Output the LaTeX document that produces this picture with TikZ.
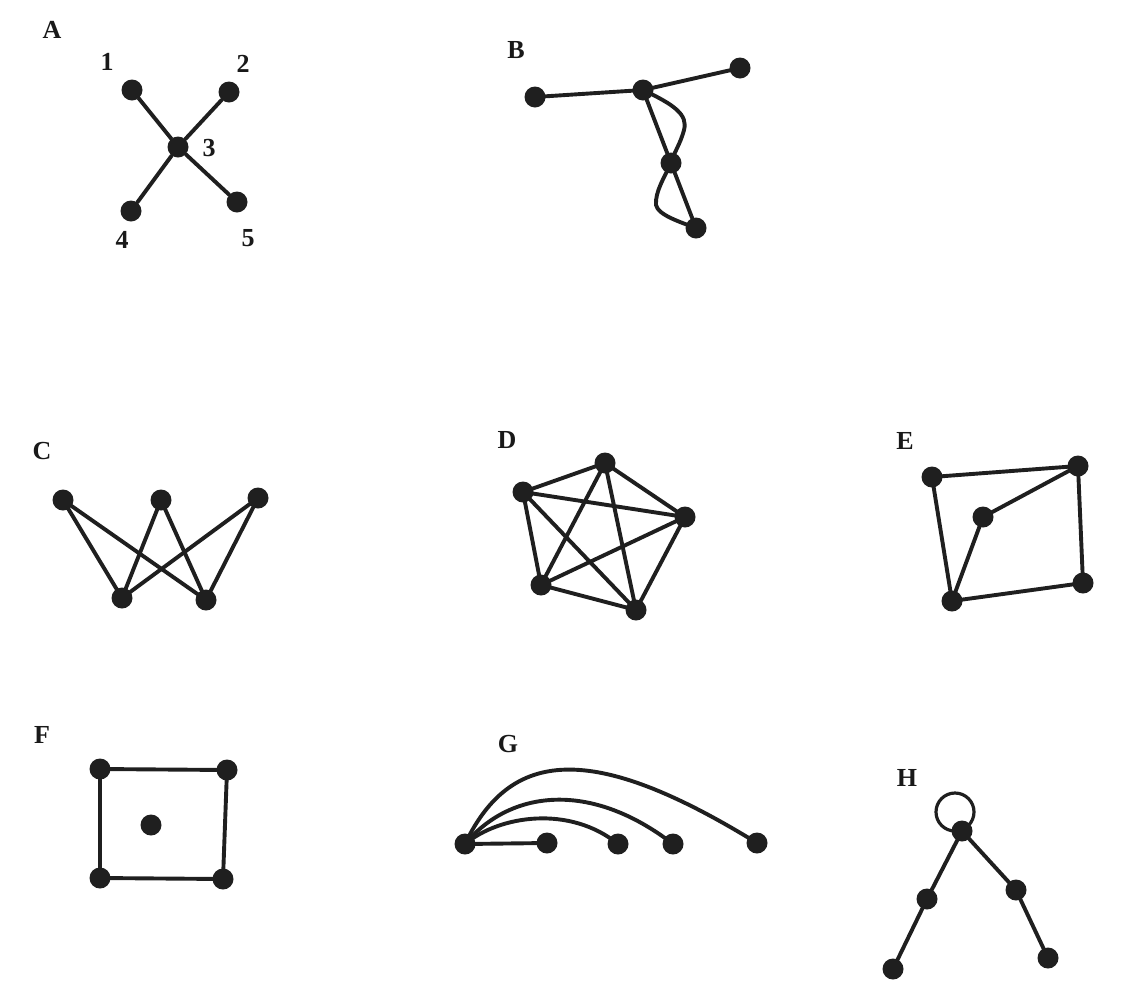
\documentclass[tikz,border=0pt]{standalone}
\usepackage{fontspec}
\setmainfont{Liberation Serif}
\begin{document}
\begin{tikzpicture}[x=1pt,y=-1pt,
  vtx/.style={circle,fill=black!88,inner sep=0pt,minimum size=21pt},
  edge/.style={line width=3.9pt,black!88,line cap=round,line join=round},
  lbl/.style={font=\fontsize{26}{29}\selectfont\bfseries,inner sep=0pt,black!90}]
\useasboundingbox (0,0) rectangle (1122,994);
% ---------- A
\node[lbl] (lA) at (52,30) {A};
\node[vtx] (a1) at (132,90) {};
\node[vtx] (a2) at (229,92) {};
\node[vtx] (a3) at (178,147) {};
\node[vtx] (a4) at (131,211) {};
\node[vtx] (a5) at (237,202) {};
\node[lbl] (n1) at (107,62) {1};
\node[lbl] (n2) at (243,64) {2};
\node[lbl] (n3) at (209,148) {3};
\node[lbl] (n4) at (122,240) {4};
\node[lbl] (n5) at (248,238) {5};
\draw[edge] (a1)--(a3) (a2)--(a3) (a4)--(a3) (a5)--(a3);
% ---------- B
\node[lbl] (lB) at (516,50) {B};
\node[vtx] (b1) at (535,97) {};
\node[vtx] (b2) at (643,90) {};
\node[vtx] (b3) at (740,68) {};
\node[vtx] (b4) at (671,163) {};
\node[vtx] (b5) at (696,228) {};
\draw[edge] (b1.center)--(b2.center)--(b3.center);
\draw[edge] (b2.center)--(b4.center)--(b5.center);
\draw[edge] (b2.center) .. controls (675,105) and (688,115) .. (684,130) .. controls (680,145) and (674,152) .. (b4.center);
\draw[edge] (b4.center) .. controls (664,178) and (655,192) .. (656,205) .. controls (658,215) and (680,222) .. (b5.center);
% ---------- C
\node[lbl] (lC) at (42,451) {C};
\node[vtx] (c1) at (63,500) {};
\node[vtx] (c2) at (161,500) {};
\node[vtx] (c3) at (258,498) {};
\node[vtx] (c4) at (122,598) {};
\node[vtx] (c5) at (206,600) {};
\foreach \t in {c1,c2,c3}{\foreach \b in {c4,c5}{\draw[edge] (\t.center)--(\b.center);}}
% ---------- D
\node[lbl] (lD) at (507,440) {D};
\node[vtx] (d1) at (605,463) {};
\node[vtx] (d2) at (523,492) {};
\node[vtx] (d3) at (685,517) {};
\node[vtx] (d4) at (541,585) {};
\node[vtx] (d5) at (636,610) {};
\draw[edge] (d1.center)--(d2.center) (d1.center)--(d3.center) (d1.center)--(d4.center) (d1.center)--(d5.center)
  (d2.center)--(d3.center) (d2.center)--(d4.center) (d2.center)--(d5.center)
  (d3.center)--(d4.center) (d3.center)--(d5.center) (d4.center)--(d5.center);
% ---------- E
\node[lbl] (lE) at (905,441) {E};
\node[vtx] (e1) at (932,477) {};
\node[vtx] (e2) at (1078,466) {};
\node[vtx] (e3) at (983,517) {};
\node[vtx] (e4) at (1083,583) {};
\node[vtx] (e5) at (952,601) {};
\draw[edge] (e1.center)--(e2.center)--(e4.center)--(e5.center)--(e1.center);
\draw[edge] (e2.center)--(e3.center)--(e5.center);
% ---------- F
\node[lbl] (lF) at (42,735) {F};
\node[vtx] (f1) at (100,769) {};
\node[vtx] (f2) at (227,770) {};
\node[vtx] (f3) at (151,825) {};
\node[vtx] (f4) at (100,878) {};
\node[vtx] (f5) at (223,879) {};
\draw[edge] (f1.center)--(f2.center)--(f5.center)--(f4.center)--(f1.center);
% ---------- G
\node[lbl] (lG) at (508,744) {G};
\node[vtx] (g1) at (465,844) {};
\node[vtx] (g2) at (547,843) {};
\node[vtx] (g3) at (618,844) {};
\node[vtx] (g4) at (673,844) {};
\node[vtx] (g5) at (757,843) {};
\draw[edge] (g1.center)--(g2.center);
\draw[edge] (g1.center) .. controls (500,815) and (570,805) .. (g3.center);
\draw[edge] (g1.center) .. controls (510,790) and (590,780) .. (g4.center);
\draw[edge] (g1.center) .. controls (510,750) and (590,740) .. (g5.center);
% ---------- H
\node[lbl] (lH) at (907,778) {H};
\node[vtx] (h1) at (962,831) {};
\node[vtx] (h2) at (927,899) {};
\node[vtx] (h3) at (1016,890) {};
\node[vtx] (h4) at (893,969) {};
\node[vtx] (h5) at (1048,958) {};
\draw[edge] (h1.center)--(h2.center)--(h4.center);
\draw[edge] (h1.center)--(h3.center)--(h5.center);
\draw[line width=3.2pt,black!88] (955,812) circle (19);
\end{tikzpicture}
\end{document}
